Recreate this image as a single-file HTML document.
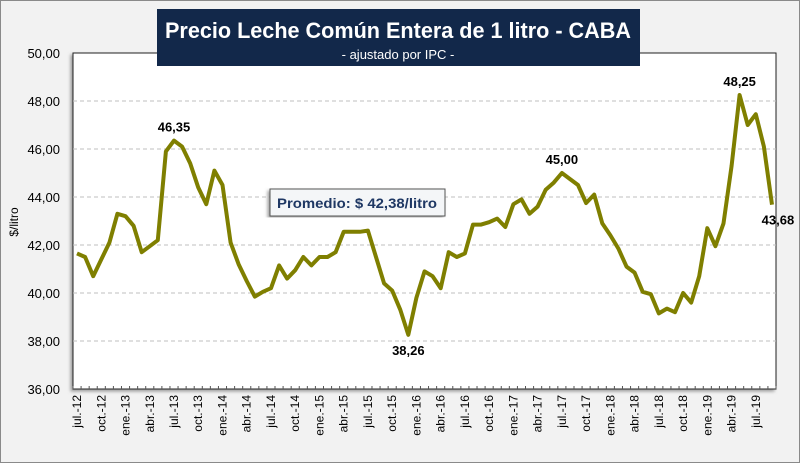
<!DOCTYPE html>
<html><head><meta charset="utf-8"><style>
html,body{margin:0;padding:0;background:#f2f2f2;}
svg{display:block;font-family:"Liberation Sans",sans-serif;}
</style></head><body>
<svg id="chart" width="800" height="463" viewBox="0 0 800 463">
<defs><filter id="sh" x="-5%" y="-5%" width="110%" height="110%"><feDropShadow dx="-2" dy="2" stdDeviation="1.5" flood-color="#777" flood-opacity="0.7"/></filter></defs>
<rect x="0.5" y="0.5" width="799" height="462" fill="#f2f2f2" stroke="#8a8a8a"/>
<rect x="73" y="53" width="703" height="336" fill="#fff" stroke="#222" stroke-width="1" filter="url(#sh)"/>
<g id="grid"></g>
<g id="yticks"></g>
<g id="xticks"></g>
<text x="18" y="222" transform="rotate(-90 18 222)" text-anchor="middle" font-size="12" fill="#000">$/litro</text>
<polyline id="line" fill="none" stroke="#7f7f00" stroke-width="4" stroke-linejoin="round"/>
<g id="labels"></g>
<rect x="270" y="189" width="175" height="27" fill="#f4f6f8" stroke="#555" filter="url(#sh)"/>
<text x="357" y="208" text-anchor="middle" font-size="14" font-weight="bold" fill="#1f3864" textLength="160" lengthAdjust="spacingAndGlyphs">Promedio: $ 42,38/litro</text>
<rect x="157" y="9" width="483" height="57" fill="#12284a"/>
<text x="398" y="38" text-anchor="middle" font-size="22" font-weight="bold" fill="#fff" textLength="466" lengthAdjust="spacingAndGlyphs">Precio Leche Común Entera de 1 litro - CABA</text>
<text x="398" y="59" text-anchor="middle" font-size="13" fill="#fff">- ajustado por IPC -</text>
</svg>
<script>
const values=[41.65,41.5,40.7,41.4,42.1,43.3,43.2,42.8,41.7,41.95,42.2,45.9,46.35,46.1,45.4,44.4,43.7,45.1,44.5,42.1,41.2,40.5,39.85,40.05,40.2,41.15,40.6,40.95,41.5,41.15,41.5,41.5,41.7,42.55,42.55,42.55,42.6,41.5,40.4,40.1,39.3,38.26,39.8,40.9,40.7,40.2,41.7,41.5,41.65,42.85,42.85,42.95,43.1,42.75,43.7,43.9,43.3,43.6,44.3,44.6,45.0,44.75,44.5,43.75,44.1,42.9,42.4,41.85,41.1,40.85,40.05,39.95,39.15,39.35,39.2,40.0,39.6,40.7,42.7,41.95,42.9,45.3,48.25,47.0,47.45,46.1,43.68];
const months=["ene","feb","mar","abr","may","jun","jul","ago","sep","oct","nov","dic"];
const startYear=12, startMonth=6;
const yTicks=[36,38,40,42,44,46,48,50];
const annotations=[[12,"46,35","above"],[41,"38,26","below"],[60,"45,00","above"],[82,"48,25","above"],[86,"43,68","below"]];
const NS="http://www.w3.org/2000/svg";
const X0=73,X1=776,Y0=389,Y1=53,YMIN=36,YMAX=50;
const bw=(X1-X0)/values.length;
const xs=i=>X0+bw*(i+0.5);
const ys=v=>Y0-(v-YMIN)/(YMAX-YMIN)*(Y0-Y1);
function mk(t,a,p){const e=document.createElementNS(NS,t);for(const k in a)e.setAttribute(k,a[k]);p.appendChild(e);return e;}
const grid=document.getElementById('grid'),yt=document.getElementById('yticks'),xt=document.getElementById('xticks'),lb=document.getElementById('labels');
yTicks.forEach(v=>{
  if(v>YMIN&&v<YMAX){const l=mk('line',{x1:X0,x2:X1,y1:ys(v),y2:ys(v),stroke:'#bfbfbf','stroke-dasharray':'4,3'},grid);
  
  }
  const t=mk('text',{x:60,y:ys(v)+5,'text-anchor':'end','font-size':'13',fill:'#000'},yt);
  t.textContent=v.toFixed(2).replace('.',',');
  
  
});
for(let i=0;i<=values.length;i++){
  const x=X0+bw*i;
  const tk=mk('line',{x1:x,x2:x,y1:Y0,y2:Y0-3,stroke:'#555'},xt);
  
  
}
values.forEach((v,i)=>{
  if(i%3!==0)return;
  const m=(startMonth+i)%12,y=startYear+Math.floor((startMonth+i)/12);
  const x=xs(i);
  const t=mk('text',{x:x+4,y:395,'text-anchor':'end','font-size':'12',fill:'#000',transform:`rotate(-90 ${x+4} 395)`},xt);
  t.textContent=months[m]+'.-'+y;
  
  
});
document.getElementById('line').setAttribute('points',values.map((v,i)=>xs(i).toFixed(1)+','+ys(v).toFixed(1)).join(' '));
annotations.forEach(([i,txt,pos])=>{
  const t=mk('text',{x:xs(i)+(i===86?6:0),y:pos==='above'?ys(values[i])-9:ys(values[i])+20,'text-anchor':'middle','font-size':'13','font-weight':'bold',fill:'#000'},lb);
  t.textContent=txt;
  
  
});
</script>
</body></html>
